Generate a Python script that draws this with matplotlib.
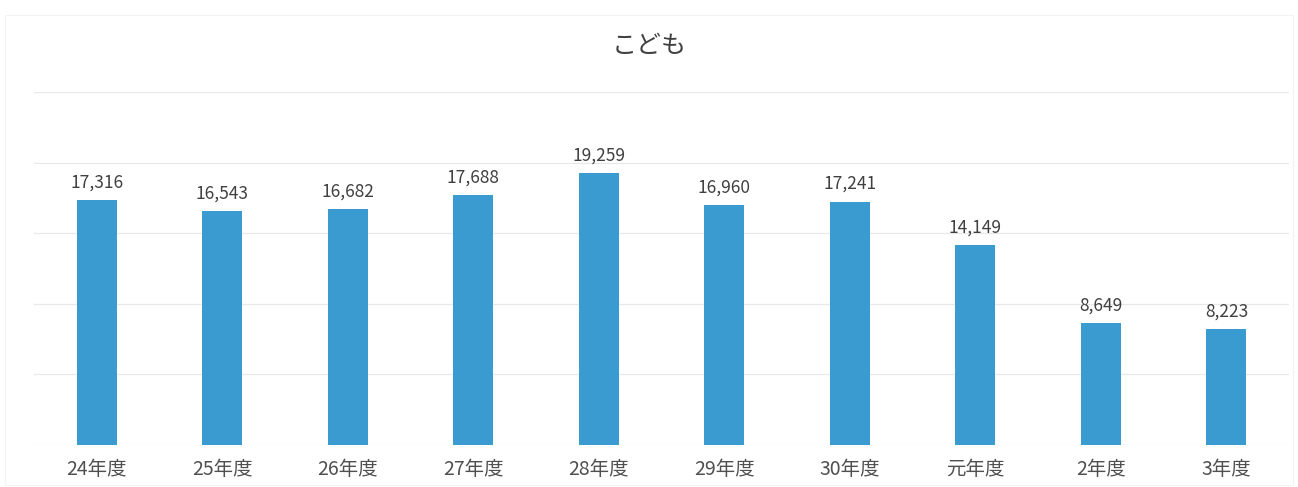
import matplotlib
matplotlib.use('Agg')
from matplotlib import pyplot as plt
from matplotlib.patches import Rectangle

plt.rcParams['font.family'] = ['Noto Sans CJK JP', 'DejaVu Sans']

# data
years = ['24年度', '25年度', '26年度', '27年度', '28年度',
         '29年度', '30年度', '元年度', '2年度', '3年度']
counts = [17316, 16543, 16682, 17688, 19259, 16960, 17241, 14149, 8649, 8223]

fig = plt.figure(figsize=(12.98, 4.87), dpi=100)
ax = fig.add_axes([0.0262, 0.0862, 0.967, 0.725])

# faint outer frame of the chart
fig.patches.append(Rectangle((0.004, 0.005), 0.992, 0.964, transform=fig.transFigure,
                             fill=False, edgecolor='#f3f3f3', linewidth=0.8))

x = range(len(years))
bars = ax.bar(x, counts, width=0.32, color='#3a9bd0', zorder=3)

# value labels above the bars
for b, v in zip(bars, counts):
    ax.text(b.get_x() + b.get_width() / 2, v + 600, f'{v:,}',
            ha='center', va='bottom', fontsize=12.5, color='#404040')

ax.set_ylim(0, 25000)
ax.set_xlim(-0.5, len(years) - 0.5)
ax.set_yticks(range(0, 25001, 5000))
ax.yaxis.grid(True, color='#e8e8e8', linewidth=0.9, zorder=0)
ax.tick_params(axis='y', left=False, labelleft=False)
ax.tick_params(axis='x', length=0, pad=10, labelsize=14, labelcolor='#505050')
ax.set_xticks(list(x))
ax.set_xticklabels(years)
for s in ax.spines.values():
    s.set_visible(False)

fig.text(0.5, 0.905, 'こども', ha='center', va='center', fontsize=18, color='#404040')

plt.savefig('out.png', dpi=100)
